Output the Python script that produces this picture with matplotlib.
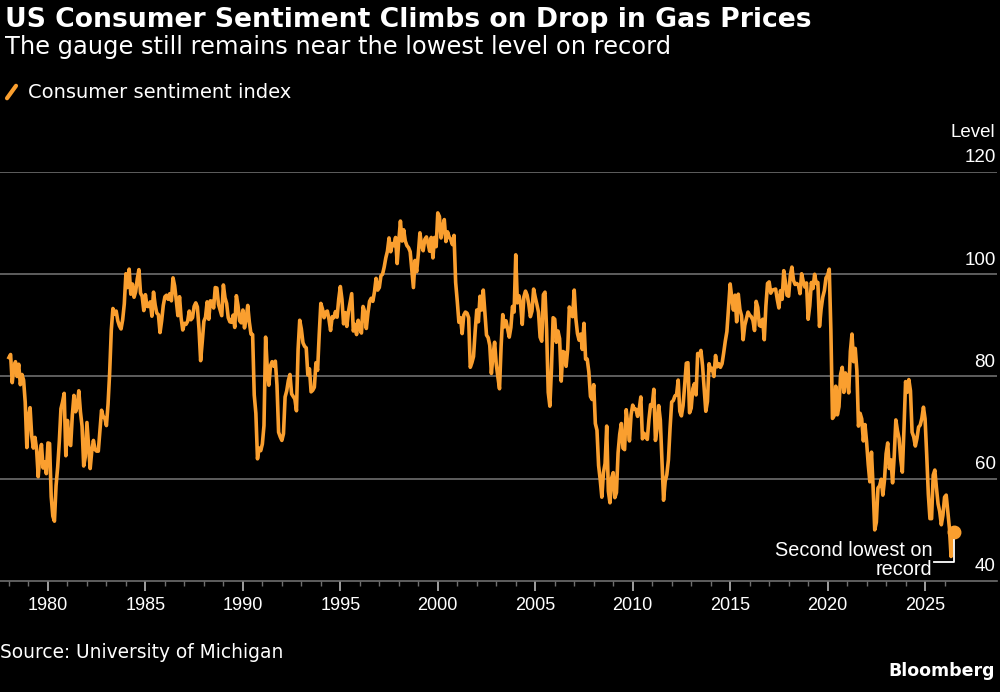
import matplotlib
matplotlib.use("Agg")
import matplotlib.pyplot as plt
import numpy as np

# University of Michigan consumer sentiment, monthly from Jan 1978
start_year = 1978
sentiment = [
    83.7, 84.3, 78.8, 81.6, 82.9, 80.0, 82.4, 78.4, 80.4, 79.3, 75.0, 66.1,   # 1978
    72.1, 73.9, 68.4, 66.0, 68.1, 65.8, 60.4, 64.5, 66.7, 62.1, 63.3, 61.0,   # 1979
    67.0, 66.9, 56.5, 52.7, 51.7, 58.7, 62.3, 67.3, 73.7, 75.0, 76.7, 64.5,   # 1980
    71.4, 66.9, 66.5, 72.4, 76.3, 73.1, 74.1, 77.2, 73.1, 70.3, 62.5, 64.3,   # 1981
    71.0, 66.5, 62.0, 65.5, 67.5, 65.7, 65.4, 65.4, 69.3, 73.4, 72.1, 71.9,   # 1982
    70.4, 74.6, 80.8, 89.1, 93.3, 92.2, 92.8, 90.9, 89.9, 89.3, 91.1, 94.2,   # 1983
    100.1, 97.4, 101.0, 96.1, 98.1, 95.5, 96.6, 99.1, 100.9, 96.3, 95.7, 92.9,  # 1984
    96.0, 93.7, 93.7, 94.6, 91.8, 96.5, 94.0, 92.4, 92.1, 88.6, 90.9, 93.9,   # 1985
    95.6, 95.9, 95.1, 96.2, 94.8, 99.3, 97.7, 94.9, 91.9, 95.6, 91.4, 89.1,   # 1986
    90.4, 90.2, 90.8, 92.8, 91.1, 91.5, 93.7, 94.4, 93.6, 89.3, 83.1, 86.8,   # 1987
    90.8, 91.6, 94.6, 91.2, 94.8, 94.7, 93.4, 97.4, 97.3, 94.1, 93.0, 91.9,   # 1988
    97.9, 95.4, 94.3, 91.5, 90.7, 90.6, 92.0, 89.6, 95.8, 93.9, 90.9, 90.5,   # 1989
    93.0, 89.5, 91.3, 93.9, 90.6, 88.3, 88.2, 76.4, 72.8, 63.9, 66.0, 65.5,   # 1990
    66.8, 70.4, 87.7, 81.8, 78.3, 82.1, 82.9, 82.0, 83.0, 78.3, 69.1, 68.2,   # 1991
    67.5, 68.8, 76.0, 77.2, 79.2, 80.4, 76.6, 76.1, 75.6, 73.3, 85.3, 91.0,   # 1992
    89.3, 86.6, 85.9, 85.6, 80.3, 81.5, 77.0, 77.3, 77.9, 82.7, 81.2, 88.2,   # 1993
    94.3, 93.2, 91.5, 92.6, 92.8, 91.2, 89.0, 91.7, 91.5, 92.7, 91.6, 95.1,   # 1994
    97.6, 95.1, 90.3, 92.5, 89.8, 92.7, 94.4, 96.2, 88.9, 90.2, 88.2, 91.0,   # 1995
    89.3, 88.5, 93.7, 92.7, 89.4, 92.4, 94.7, 95.3, 94.7, 96.5, 99.2, 96.9,   # 1996
    97.4, 99.7, 100.0, 101.4, 103.2, 104.5, 107.1, 104.4, 106.0, 105.6, 107.2, 102.1,  # 1997
    106.6, 110.4, 106.5, 108.7, 106.5, 105.6, 105.2, 104.4, 100.9, 97.4, 102.7, 100.5,  # 1998
    103.9, 108.1, 105.7, 104.6, 106.8, 107.3, 106.0, 104.5, 107.2, 103.2, 107.2, 105.4,  # 1999
    112.0, 111.3, 107.1, 109.2, 110.7, 106.4, 108.3, 107.3, 106.8, 105.8, 107.6, 98.4,  # 2000
    94.7, 90.6, 91.5, 88.4, 92.0, 92.6, 92.4, 91.5, 81.8, 82.7, 83.9, 88.8,   # 2001
    93.0, 90.7, 95.7, 93.0, 96.9, 92.4, 88.1, 87.6, 86.1, 80.6, 84.2, 86.7,   # 2002
    82.4, 79.9, 77.6, 86.0, 92.1, 89.7, 90.9, 89.3, 87.7, 89.6, 93.7, 92.6,   # 2003
    103.8, 94.4, 95.8, 94.2, 90.2, 95.6, 96.7, 95.9, 94.2, 91.7, 92.8, 97.1,  # 2004
    95.5, 94.1, 92.6, 87.7, 86.9, 96.0, 96.5, 89.1, 76.9, 74.2, 81.6, 91.5,   # 2005
    91.2, 86.7, 88.9, 87.4, 79.1, 84.9, 84.7, 82.0, 85.4, 93.6, 92.1, 91.7,   # 2006
    96.9, 91.3, 88.4, 87.1, 88.3, 85.3, 90.4, 83.4, 83.4, 80.9, 76.1, 75.5,   # 2007
    78.4, 70.8, 69.5, 62.6, 59.8, 56.4, 61.2, 63.0, 70.3, 57.6, 55.3, 60.1,   # 2008
    61.2, 56.3, 57.3, 65.1, 68.7, 70.8, 66.0, 65.7, 73.5, 70.6, 67.4, 72.5,   # 2009
    74.4, 73.6, 73.6, 72.2, 73.6, 76.0, 67.8, 68.9, 68.2, 67.7, 71.6, 74.5,   # 2010
    74.2, 77.5, 67.5, 69.8, 74.3, 71.5, 63.7, 55.8, 59.5, 60.8, 63.7, 69.9,   # 2011
    75.0, 75.3, 76.2, 76.4, 79.3, 73.2, 72.3, 74.3, 78.3, 82.6, 82.7, 72.9,   # 2012
    73.8, 77.6, 78.6, 76.4, 84.5, 84.1, 85.1, 82.1, 77.5, 73.2, 75.1, 82.5,   # 2013
    81.2, 81.6, 80.0, 84.1, 81.9, 82.5, 81.8, 82.5, 84.6, 86.9, 88.8, 93.6,   # 2014
    98.1, 95.4, 93.0, 95.9, 90.7, 96.1, 93.1, 91.9, 87.2, 90.0, 91.3, 92.6,   # 2015
    92.0, 91.7, 91.0, 89.0, 94.7, 93.5, 90.0, 89.8, 91.2, 87.2, 93.8, 98.2,   # 2016
    98.5, 96.3, 96.9, 97.0, 97.1, 95.1, 93.4, 96.8, 95.1, 100.7, 98.5, 95.9,  # 2017
    95.7, 99.7, 101.4, 98.8, 98.0, 98.2, 97.9, 96.2, 100.1, 98.6, 97.5, 98.3,  # 2018
    91.2, 93.8, 98.4, 97.2, 100.0, 98.2, 98.4, 89.8, 93.2, 95.5, 96.8, 99.3,  # 2019
    99.8, 101.0, 89.1, 71.8, 72.3, 78.1, 72.5, 74.1, 80.4, 81.8, 76.9, 80.7,  # 2020
    79.0, 76.8, 84.9, 88.3, 82.9, 85.5, 81.2, 70.3, 72.8, 71.7, 67.4, 70.6,   # 2021
    67.2, 62.8, 59.4, 65.2, 58.4, 50.0, 51.5, 58.2, 58.6, 59.9, 56.8, 59.7,   # 2022
    64.9, 67.0, 62.0, 63.7, 59.2, 64.4, 71.5, 69.4, 67.9, 63.8, 61.3, 69.7,   # 2023
    79.0, 76.9, 79.4, 77.2, 69.1, 68.2, 66.4, 67.9, 70.1, 70.5, 71.8, 74.0,   # 2024
    71.7, 64.7, 57.0, 52.2, 52.2, 60.7, 61.7, 58.2, 55.1, 53.6, 51.0, 52.9,   # 2025
    56.4, 56.8, 53.5, 50.3, 44.8, 50.0, 49.6,                                 # 2026
]
label_years = list(range(1980, 2030, 5))
grid_levels = [60, 80, 100, 120]
level_labels = [40, 60, 80, 100, 120]

orange = "#fa9f2f"
grey = "#6e6e6e"

x = start_year + np.arange(len(sentiment)) / 12.0
y = np.array(sentiment)

fig = plt.figure(figsize=(10, 6.92), dpi=100, facecolor="black")
ax = fig.add_axes([0.0, 1 - 581 / 692, 0.997, (581 - 172) / 692])
ax.set_facecolor("black")

ax.plot(x, y, color=orange, lw=2.6, solid_joinstyle="round", zorder=3)
ax.plot(x[-1], y[-1], "o", color=orange, ms=9, zorder=4)

ax.set_xlim(1977.54, 2028.69)
ax.set_ylim(40, 120)

for lv in grid_levels:
    ax.axhline(lv, color=grey, lw=1.2, zorder=1)

for s in ["top", "right", "left"]:
    ax.spines[s].set_visible(False)
ax.spines["bottom"].set_color(grey)
ax.spines["bottom"].set_linewidth(1.2)

ax.set_yticks([])
ax.set_xticks(label_years)
ax.set_xticklabels([str(v) for v in label_years])
ax.set_xticks(range(1978, 2027), minor=True)
ax.tick_params(axis="x", which="major", length=7.5, width=1.2, color="#bbbbbb",
               labelcolor="white", labelsize=13, pad=4)
ax.tick_params(axis="x", which="minor", length=3.5, width=1.0, color=grey)
for lab in ax.get_xticklabels():
    lab.set_family("Liberation Sans")

for lv in level_labels:
    ax.annotate(str(lv), xy=(1, lv), xycoords=("axes fraction", "data"),
                xytext=(-1, 4), textcoords="offset points", ha="right", va="bottom",
                color="white", fontsize=13.5, family="Liberation Sans")
ax.annotate("Level", xy=(1, 120), xycoords=("axes fraction", "data"),
            xytext=(-1, 22), textcoords="offset points", ha="right", va="bottom",
            color="white", fontsize=13.5, family="Liberation Sans")

# leader line and note for the latest reading
lx, ly = x[-1], y[-1]
ax.plot([lx, lx, lx - 1.03], [ly - 1.6, 43.7, 43.7], color="white", lw=1.3, zorder=5)
ax.text(lx - 1.13, 40.3, "Second lowest on\nrecord", ha="right", va="bottom",
        color="white", fontsize=14.3, family="Liberation Sans", linespacing=1.05,
        zorder=5)

fig.text(0.005, 0.99, "US Consumer Sentiment Climbs on Drop in Gas Prices",
         color="white", fontsize=19.2, fontweight="bold", va="top", family="DejaVu Sans")
fig.text(0.005, 0.949, "The gauge still remains near the lowest level on record",
         color="white", fontsize=17.4, va="top", family="DejaVu Sans")
fig.lines.append(plt.Line2D([0.007, 0.016], [0.858, 0.876], transform=fig.transFigure,
                            color=orange, lw=3, solid_capstyle="round"))
fig.text(0.028, 0.867, "Consumer sentiment index", color="white", fontsize=14,
         va="center", family="DejaVu Sans")
fig.text(0.0, 0.057, "Source: University of Michigan", color="white",
         fontsize=13.4, va="center", family="DejaVu Sans")
fig.text(0.995, 0.018, "Bloomberg", color="white", fontsize=12.5, fontweight="bold",
         ha="right", va="bottom", family="DejaVu Sans")

fig.savefig("out.png", dpi=100, facecolor="black")
